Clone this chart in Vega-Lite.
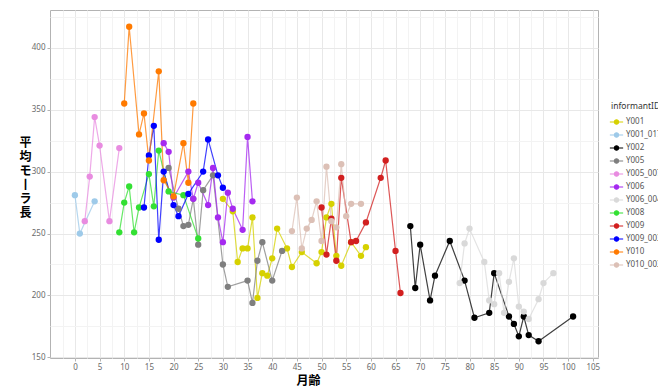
{
  "$schema": "https://vega.github.io/schema/vega-lite/v6.json",
  "width": 548,
  "height": 348,
  "padding": {"left": 50, "top": 10, "right": 60, "bottom": 28},
  "autosize": {"type": "none"},
  "background": "white",
  "config": {
    "view": {"stroke": "#b3b3b3", "strokeWidth": 1},
    "font": "Noto Sans"
  },
  "data": {
    "values": [
      {"id":"Y001","m":30,"v":278},{"id":"Y001","m":32,"v":268},{"id":"Y001","m":33,"v":227},{"id":"Y001","m":34,"v":238},{"id":"Y001","m":35,"v":238},{"id":"Y001","m":36,"v":263},{"id":"Y001","m":37,"v":198},{"id":"Y001","m":38,"v":218},{"id":"Y001","m":39,"v":216},{"id":"Y001","m":40,"v":230},{"id":"Y001","m":41,"v":254},{"id":"Y001","m":43,"v":238},{"id":"Y001","m":44,"v":223},{"id":"Y001","m":46,"v":235},{"id":"Y001","m":49,"v":226},{"id":"Y001","m":50,"v":235},{"id":"Y001","m":51,"v":263},{"id":"Y001","m":52,"v":274},{"id":"Y001","m":53,"v":232},{"id":"Y001","m":54,"v":224},{"id":"Y001","m":56,"v":243},{"id":"Y001","m":58,"v":232},{"id":"Y001","m":59,"v":239},
      {"id":"Y001_017","m":0,"v":281},{"id":"Y001_017","m":1,"v":250},{"id":"Y001_017","m":4,"v":276},
      {"id":"Y002","m":68,"v":256},{"id":"Y002","m":69,"v":206},{"id":"Y002","m":70,"v":241},{"id":"Y002","m":72,"v":196},{"id":"Y002","m":73,"v":216},{"id":"Y002","m":76,"v":244},{"id":"Y002","m":79,"v":212},{"id":"Y002","m":81,"v":182},{"id":"Y002","m":84,"v":186},{"id":"Y002","m":85,"v":218},{"id":"Y002","m":88,"v":183},{"id":"Y002","m":89,"v":177},{"id":"Y002","m":90,"v":167},{"id":"Y002","m":91,"v":183},{"id":"Y002","m":92,"v":168},{"id":"Y002","m":94,"v":163},{"id":"Y002","m":101,"v":183},
      {"id":"Y005","m":19,"v":303},{"id":"Y005","m":21,"v":270},{"id":"Y005","m":22,"v":256},{"id":"Y005","m":23,"v":257},{"id":"Y005","m":24,"v":278},{"id":"Y005","m":25,"v":241},{"id":"Y005","m":26,"v":285},{"id":"Y005","m":28,"v":297},{"id":"Y005","m":30,"v":225},{"id":"Y005","m":31,"v":207},{"id":"Y005","m":35,"v":212},{"id":"Y005","m":36,"v":194},{"id":"Y005","m":37,"v":228},{"id":"Y005","m":38,"v":243},{"id":"Y005","m":40,"v":212},{"id":"Y005","m":42,"v":236},
      {"id":"Y005_007","m":2,"v":260},{"id":"Y005_007","m":3,"v":296},{"id":"Y005_007","m":4,"v":344},{"id":"Y005_007","m":5,"v":321},{"id":"Y005_007","m":7,"v":260},{"id":"Y005_007","m":9,"v":319},
      {"id":"Y006","m":18,"v":323},{"id":"Y006","m":19,"v":316},{"id":"Y006","m":20,"v":279},{"id":"Y006","m":23,"v":300},{"id":"Y006","m":24,"v":278},{"id":"Y006","m":25,"v":291},{"id":"Y006","m":27,"v":273},{"id":"Y006","m":28,"v":303},{"id":"Y006","m":29,"v":263},{"id":"Y006","m":30,"v":243},{"id":"Y006","m":31,"v":283},{"id":"Y006","m":32,"v":270},{"id":"Y006","m":34,"v":253},{"id":"Y006","m":35,"v":328},{"id":"Y006","m":36,"v":276},
      {"id":"Y006_004","m":78,"v":210},{"id":"Y006_004","m":79,"v":242},{"id":"Y006_004","m":80,"v":254},{"id":"Y006_004","m":83,"v":227},{"id":"Y006_004","m":84,"v":196},{"id":"Y006_004","m":85,"v":193},{"id":"Y006_004","m":86,"v":218},{"id":"Y006_004","m":87,"v":186},{"id":"Y006_004","m":88,"v":211},{"id":"Y006_004","m":89,"v":230},{"id":"Y006_004","m":90,"v":191},{"id":"Y006_004","m":91,"v":187},{"id":"Y006_004","m":92,"v":181},{"id":"Y006_004","m":94,"v":197},{"id":"Y006_004","m":95,"v":210},{"id":"Y006_004","m":97,"v":218},
      {"id":"Y008","m":9,"v":251},{"id":"Y008","m":10,"v":275},{"id":"Y008","m":11,"v":288},{"id":"Y008","m":12,"v":251},{"id":"Y008","m":13,"v":271},{"id":"Y008","m":15,"v":298},{"id":"Y008","m":16,"v":272},{"id":"Y008","m":17,"v":317},{"id":"Y008","m":19,"v":284},{"id":"Y008","m":22,"v":281},{"id":"Y008","m":25,"v":246},
      {"id":"Y009","m":50,"v":271},{"id":"Y009","m":51,"v":233},{"id":"Y009","m":52,"v":262},{"id":"Y009","m":53,"v":228},{"id":"Y009","m":54,"v":295},{"id":"Y009","m":56,"v":243},{"id":"Y009","m":57,"v":244},{"id":"Y009","m":59,"v":259},{"id":"Y009","m":62,"v":295},{"id":"Y009","m":63,"v":309},{"id":"Y009","m":65,"v":236},{"id":"Y009","m":66,"v":202},
      {"id":"Y009_003","m":14,"v":271},{"id":"Y009_003","m":15,"v":313},{"id":"Y009_003","m":16,"v":337},{"id":"Y009_003","m":17,"v":245},{"id":"Y009_003","m":18,"v":300},{"id":"Y009_003","m":20,"v":273},{"id":"Y009_003","m":21,"v":264},{"id":"Y009_003","m":23,"v":282},{"id":"Y009_003","m":26,"v":300},{"id":"Y009_003","m":27,"v":326},{"id":"Y009_003","m":29,"v":297},{"id":"Y009_003","m":30,"v":287},
      {"id":"Y010","m":10,"v":355},{"id":"Y010","m":11,"v":417},{"id":"Y010","m":13,"v":330},{"id":"Y010","m":14,"v":347},{"id":"Y010","m":15,"v":309},{"id":"Y010","m":17,"v":381},{"id":"Y010","m":18,"v":293},{"id":"Y010","m":20,"v":280},{"id":"Y010","m":22,"v":323},{"id":"Y010","m":23,"v":291},{"id":"Y010","m":24,"v":355},
      {"id":"Y010_003","m":44,"v":252},{"id":"Y010_003","m":45,"v":279},{"id":"Y010_003","m":46,"v":238},{"id":"Y010_003","m":47,"v":254},{"id":"Y010_003","m":48,"v":261},{"id":"Y010_003","m":49,"v":276},{"id":"Y010_003","m":50,"v":244},{"id":"Y010_003","m":51,"v":304},{"id":"Y010_003","m":52,"v":260},{"id":"Y010_003","m":53,"v":255},{"id":"Y010_003","m":54,"v":306},{"id":"Y010_003","m":55,"v":264},{"id":"Y010_003","m":56,"v":274},{"id":"Y010_003","m":58,"v":274}
    ]
  },
  "encoding": {
    "x": {
      "field": "m", "type": "quantitative",
      "scale": {"domain": [-5.05, 106.05], "nice": false, "zero": false},
      "axis": {
        "values": [-2.5,0,2.5,5,7.5,10,12.5,15,17.5,20,22.5,25,27.5,30,32.5,35,37.5,40,42.5,45,47.5,50,52.5,55,57.5,60,62.5,65,67.5,70,72.5,75,77.5,80,82.5,85,87.5,90,92.5,95,97.5,100,102.5,105],
        "labelExpr": "datum.value % 5 === 0 ? datum.label : ''",
        "domain": false,
        "grid": true,
        "gridColor": {"condition": {"test": "datum.value % 5 === 0", "value": "#e8e8e8"}, "value": "#f3f3f3"},
        "gridWidth": 1,
        "tickColor": "#b3b3b3",
        "tickOpacity": {"condition": {"test": "datum.value % 5 === 0", "value": 1}, "value": 0},
        "tickSize": 3,
        "labelFontSize": 8,
        "labelColor": "#6b6b6b",
        "labelPadding": 2,
        "labelFlush": false,
        "title": "月齢",
        "titleFont": "Noto Sans CJK JP",
        "titleFontSize": 12,
        "titleFontWeight": "bold",
        "titleColor": "#000000",
        "titleX": 258,
        "titleY": 22,
        "titleBaseline": "middle",
        "titleAnchor": "middle"
      }
    },
    "y": {
      "field": "v", "type": "quantitative",
      "scale": {"domain": [149.5, 430.5], "nice": false, "zero": false},
      "axis": {
        "values": [150,175,200,225,250,275,300,325,350,375,400,425],
        "labelExpr": "datum.value % 50 === 0 ? datum.label : ''",
        "domain": false,
        "grid": true,
        "gridColor": {"condition": {"test": "datum.value % 50 === 0", "value": "#e8e8e8"}, "value": "#f3f3f3"},
        "tickColor": "#b3b3b3",
        "tickOpacity": {"condition": {"test": "datum.value % 50 === 0", "value": 1}, "value": 0},
        "tickSize": 3,
        "labelFontSize": 8,
        "labelColor": "#6b6b6b",
        "labelPadding": 2,
        "labelFlush": false,
        "title": ["平", "均", "モ", "丨", "ラ", "長"],
        "titleFont": "Noto Sans CJK JP",
        "titleFontSize": 12,
        "titleFontWeight": "bold",
        "titleColor": "#000000",
        "titleAngle": 0,
        "titleLineHeight": 14,
        "titleX": -25,
        "titleY": 132,
        "titleBaseline": "middle",
        "titleAlign": "center"
      }
    },
    "color": {
      "field": "id", "type": "nominal",
      "scale": {
        "domain": ["Y001","Y001_017","Y002","Y005","Y005_007","Y006","Y006_004","Y008","Y009","Y009_003","Y010","Y010_003"],
        "range": ["#d6d100","#9ecae9","#000000","#7f7f7f","#e88ce0","#a52af0","#d9d9d9","#33e033","#d21f1f","#0000ff","#ff7a00","#dcc0b6"]
      },
      "legend": {
        "title": "informantID",
        "orient": "none",
        "legendX": 561,
        "legendY": 92,
        "titleFontSize": 8.5,
        "titleFontWeight": "normal",
        "titleColor": "#333333",
        "titlePadding": 6,
        "labelFontSize": 8,
        "labelColor": "#555555",
        "labelLimit": 60,
        "rowPadding": 2,
        "symbolType": "M-1.4,0H1.4M0.45,0A0.45,0.45 0 1,1 -0.45,0A0.45,0.45 0 1,1 0.45,0",
        "symbolSize": 90,
        "symbolStrokeWidth": 1.2,
        "symbolOpacity": 1
      }
    }
  },
  "layer": [
    {"mark": {"type": "line", "strokeWidth": 1.2, "opacity": 0.75}},
    {"mark": {"type": "point", "filled": true, "size": 40, "opacity": 1}}
  ]
}
